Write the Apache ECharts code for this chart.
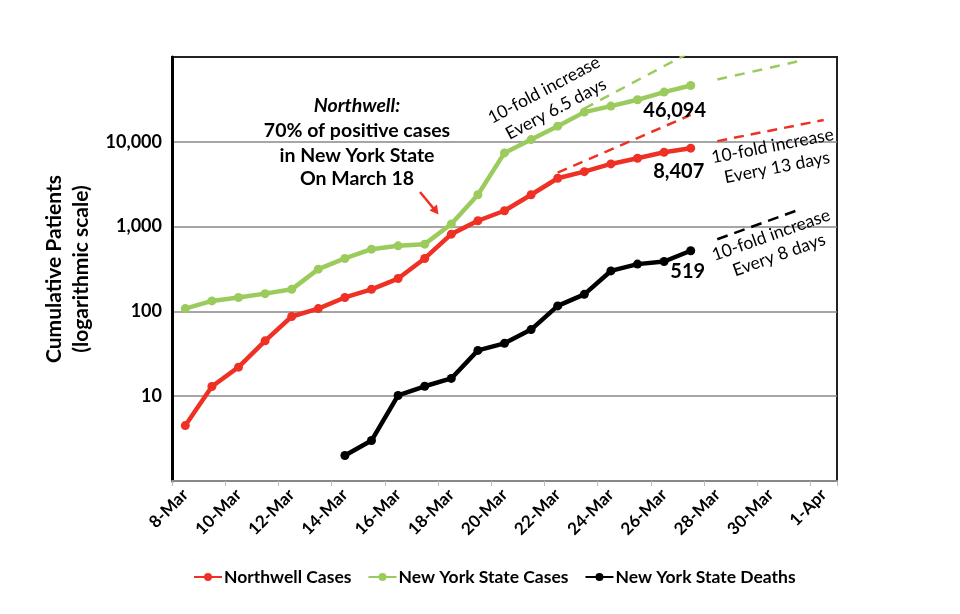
<!DOCTYPE html>
<html><head><meta charset="utf-8">
<script src="https://cdn.jsdelivr.net/npm/echarts@6/dist/echarts.min.js"></script>
<style>html,body{margin:0;padding:0;background:#fff}#c{width:960px;height:614px}</style>
</head><body><div id="c"></div>
<script>
const categories = ['8-Mar','9-Mar','10-Mar','11-Mar','12-Mar','13-Mar','14-Mar','15-Mar','16-Mar','17-Mar','18-Mar','19-Mar','20-Mar','21-Mar','22-Mar','23-Mar','24-Mar','25-Mar','26-Mar','27-Mar','28-Mar','29-Mar','30-Mar','31-Mar','1-Apr'];
const northwellCases = [4.5, 13, 22, 45, 87, 108, 146, 182, 244, 421, 815, 1172, 1538, 2377, 3715, 4446, 5483, 6397, 7534, 8407];
const nyStateCases = [108, 133, 146, 162, 182, 315, 421, 542, 593, 621, 1071, 2377, 7396, 10620, 15280, 22390, 26360, 31280, 38550, 46094];
const nyStateDeaths = [null, null, null, null, null, null, 2, 3, 10.2, 13.1, 16.2, 34.7, 42, 61, 116, 159, 300, 361, 388, 519];
const yTickValues = [10, 100, 1000, 10000];
// trend lines (start/end points)
const nyTrendSteep = [['23-Mar', 24600], ['27-Mar', 115000]];
const nyTrendShallow = [['28-Mar', 54300], ['31-Mar', 88300]];
const nwTrendSteep = [['22-Mar', 4335], ['27-Mar', 20740]];
const nwTrendShallow = [['28-Mar', 10190], ['1-Apr', 18070]];
const deathTrend = [['28-Mar', 710], ['31-Mar', 1552]];

const RED = '#EE3124', GREEN = '#9BCB5C', BLACK = '#000000';
const FONT = 'Lato';

function withEndLabel(arr, off) {
  return arr.map((v, i) => {
    if (i === arr.length - 1) {
      return { value: v, label: { show: true, position: 'inside', offset: off, color: '#000',
        fontFamily: FONT, fontWeight: 'bold', fontSize: 20,
        formatter: p => Math.round(p.value).toLocaleString('en-US') } };
    }
    return v;
  });
}
function mainSeries(name, arr, color, off) {
  return { name, type: 'line', data: withEndLabel(arr, off), symbol: 'circle', symbolSize: 9,
    showAllSymbol: true, connectNulls: false, z: 5,
    lineStyle: { color, width: 4.5 }, itemStyle: { color }, emphasis: { disabled: true } };
}
function trendSeries(data, color, dash, w) {
  return { type: 'line', data, symbol: 'none', z: 2, silent: true,
    lineStyle: { color, width: w, type: dash }, emphasis: { disabled: true } };
}
const d2r = Math.PI / 180;
function txt(text, x, y, font, rot) {
  return { type: 'text', x, y, rotation: (rot || 0) * d2r, z: 20,
    style: { text, font, fill: '#000', align: 'center', verticalAlign: 'middle' } };
}

const chart = echarts.init(document.getElementById('c'));
chart.setOption({
  animation: false,
  backgroundColor: '#fff',
  grid: { left: 172, right: 123, top: 57, bottom: 133, show: true, borderColor: '#222', borderWidth: 2 },
  xAxis: {
    type: 'category', data: categories, boundaryGap: true,
    axisLine: { lineStyle: { color: '#888', width: 2 } },
    axisTick: { show: true, interval: 1, length: 5, lineStyle: { color: '#bbb' } },
    axisLabel: { interval: 1, rotate: 45, fontFamily: FONT, fontWeight: 'bold', fontSize: 17, color: '#000', margin: 11 },
    splitLine: { show: false }
  },
  yAxis: {
    type: 'log', logBase: 10, min: 1, max: 100000,
    axisLine: { show: true, lineStyle: { color: '#000', width: 3 } },
    axisTick: { show: false },
    axisLabel: { fontFamily: FONT, fontWeight: 'bold', fontSize: 18, color: '#000', margin: 10,
      formatter: v => { const r = Math.round(v); return yTickValues.indexOf(r) >= 0 ? r.toLocaleString('en-US') : ''; } },
    splitLine: { show: true, showMinLine: false, showMaxLine: false, lineStyle: { color: '#888', width: 1.5 } },
    name: 'Cumulative Patients\n(logarithmic scale)', nameLocation: 'middle', nameGap: 74,
    nameTextStyle: { fontFamily: FONT, fontWeight: 'bold', fontSize: 21, color: '#000', lineHeight: 27 }
  },
  legend: {
    data: ['Northwell Cases', 'New York State Cases', 'New York State Deaths'],
    top: 563, left: 188, itemWidth: 28, itemHeight: 10, itemGap: 16,
    textStyle: { fontFamily: FONT, fontWeight: 'bold', fontSize: 17.5, color: '#000', padding: [0,0,0,-3] }
  },
  series: [
    trendSeries(nyTrendSteep, GREEN, [10, 8], 2.5),
    trendSeries(nyTrendShallow, GREEN, [10, 8], 2.5),
    trendSeries(nwTrendSteep, RED, [10, 7], 2.5),
    trendSeries(nwTrendShallow, RED, [10, 7], 2.5),
    trendSeries(deathTrend, BLACK, [11, 7], 2.5),
    mainSeries('Northwell Cases', northwellCases, RED, [-12, 23]),
    mainSeries('New York State Cases', nyStateCases, GREEN, [-16, 25]),
    mainSeries('New York State Deaths', nyStateDeaths, BLACK, [-3, 21])
  ],
  graphic: [
    txt('Northwell:', 357, 106, 'italic bold 19.5px Lato'),
    txt('70% of positive cases', 357, 131, 'bold 19.5px Lato'),
    txt('in New York State', 357, 156, 'bold 19.5px Lato'),
    txt('On March 18', 357, 179, 'bold 19.5px Lato'),
    { type: 'line', z: 20, shape: { x1: 420, y1: 192, x2: 434, y2: 209 }, style: { stroke: RED, lineWidth: 2.5 } },
    { type: 'polygon', z: 20, shape: { points: [[438.5, 214.5], [437, 204.5], [429.5, 210.5]] }, style: { fill: RED } },
    txt('10-fold increase', 544, 90, '17.5px Lato', 28),
    txt('Every 6.5 days', 556, 109, '17.5px Lato', 28),
    txt('10-fold increase', 772.5, 146, '17.5px Lato', 11),
    txt('Every 13 days', 777, 167.5, '17.5px Lato', 11),
    txt('10-fold increase', 771, 235, '17.5px Lato', 19.5),
    txt('Every 8 days', 779, 255, '17.5px Lato', 19.5)
  ]
});
</script></body></html>
